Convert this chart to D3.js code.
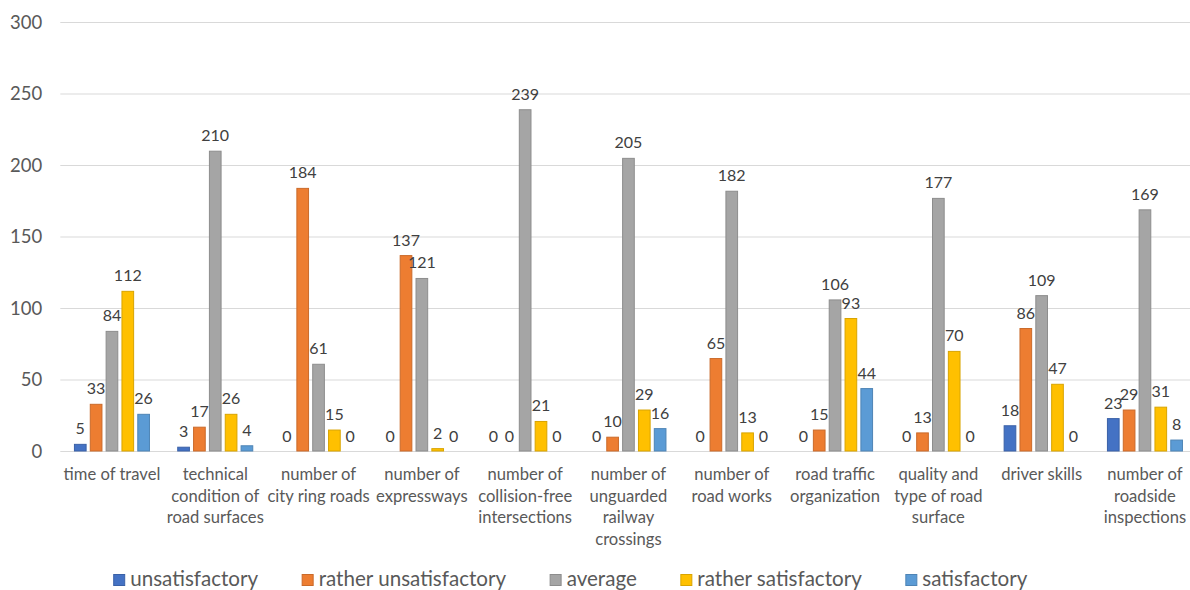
<!DOCTYPE html>
<html>
<head>
<meta charset="utf-8">
<script src="https://cdn.jsdelivr.net/npm/d3@7"></script>
<style>
  html, body { margin: 0; padding: 0; background: #fff; }
  svg { display: block; font-family: Lato, "Noto Sans", sans-serif; }
</style>
</head>
<body>
<svg id="chart" width="1190" height="590"></svg>
<script>
// Survey answers per road-infrastructure factor
const categories = [
  "time of travel",
  "technical condition of road surfaces",
  "number of city ring roads",
  "number of expressways",
  "number of collision-free intersections",
  "number of unguarded railway crossings",
  "number of road works",
  "road traffic organization",
  "quality and type of road surface",
  "driver skills",
  "number of roadside inspections"
];
// Wrapped lines for the category axis labels
const categoryLines = [
  ["time of travel"],
  ["technical", "condition of", "road surfaces"],
  ["number of", "city ring roads"],
  ["number of", "expressways"],
  ["number of", "collision-free", "intersections"],
  ["number of", "unguarded", "railway", "crossings"],
  ["number of", "road works"],
  ["road traffic", "organization"],
  ["quality and", "type of road", "surface"],
  ["driver skills"],
  ["number of", "roadside", "inspections"]
];
const seriesNames = ["unsatisfactory", "rather unsatisfactory", "average", "rather satisfactory", "satisfactory"];
const unsatisfactory       = [5, 3, 0, 0, 0, 0, 0, 0, 0, 18, 23];
const ratherUnsatisfactory = [33, 17, 184, 137, 0, 10, 65, 15, 13, 86, 29];
const average              = [84, 210, 61, 121, 239, 205, 182, 106, 177, 109, 169];
const ratherSatisfactory   = [112, 26, 15, 2, 21, 29, 13, 93, 70, 47, 31];
const satisfactory         = [26, 4, 0, 0, 0, 16, 0, 44, 0, 0, 8];
const yTicks = [0, 50, 100, 150, 200, 250, 300];

const seriesValues = [unsatisfactory, ratherUnsatisfactory, average, ratherSatisfactory, satisfactory];
const colors = ["#4472C4", "#ED7D31", "#A5A5A5", "#FFC000", "#5B9BD5"];

const svg = d3.select("#chart");
const plotLeft = 60.3, plotRight = 1196.6, plotTop = 22, plotBottom = 451;

const y = d3.scaleLinear().domain([0, 300]).range([plotBottom, plotTop]);
const x0 = d3.scaleBand().domain(categories).range([plotLeft, plotRight]).padding(0);
const groupWidth = x0.bandwidth() * 0.736;
const groupOffset = (x0.bandwidth() - groupWidth) / 2;
const x1 = d3.scaleBand().domain(seriesNames).range([0, groupWidth]).paddingInner(0.2).paddingOuter(0);

// Gridlines and y tick labels
const yAxis = d3.axisLeft(y).tickValues(yTicks).tickSize(-(plotRight - plotLeft)).tickPadding(18);
const gy = svg.append("g").attr("transform", `translate(${plotLeft},0)`).call(yAxis);
gy.select(".domain").remove();
gy.selectAll(".tick line").attr("stroke", "#D9D9D9").attr("stroke-width", 1);
gy.selectAll(".tick text")
  .attr("fill", "#595959").style("font-size", "18.5px").style("font-family", "Lato, sans-serif")
  .attr("dy", "0.34em");

// Bars
const rows = categories.map((c, i) => ({ cat: c, i, vals: seriesNames.map((s, k) => ({ s, k, v: seriesValues[k][i] })) }));
const groups = svg.append("g").selectAll("g").data(rows).join("g")
  .attr("transform", d => `translate(${x0(d.cat) + groupOffset},0)`);

groups.selectAll("rect").data(d => d.vals.filter(e => e.v > 0)).join("rect")
  .attr("x", e => x1(e.s) + 0.5)
  .attr("y", e => y(e.v) + 0.5)
  .attr("width", x1.bandwidth() - 1)
  .attr("height", e => Math.max(0, y(0) - y(e.v) - 0.5))
  .attr("fill", e => colors[e.k])
  .attr("stroke", e => d3.color(colors[e.k]).darker(0.45))
  .attr("stroke-width", 1);

// Value labels
groups.selectAll("text").data(d => d.vals).join("text")
  .attr("x", e => x1(e.s) + x1.bandwidth() / 2)
  .attr("y", e => y(e.v) - 9.5)
  .attr("text-anchor", "middle")
  .attr("fill", "#404040")
  .style("font-size", "16px")
  .text(e => e.v);

// Category labels
const cat = svg.append("g").selectAll("text").data(categoryLines).join("text")
  .attr("text-anchor", "middle")
  .attr("fill", "#595959")
  .style("font-size", "16.6px")
  .attr("transform", (d, i) => `translate(${x0(categories[i]) + x0.bandwidth() / 2},480)`);
cat.selectAll("tspan").data(d => d).join("tspan")
  .attr("x", 0).attr("dy", (d, j) => j === 0 ? 0 : 21.6).text(d => d);

// Legend
const legend = svg.append("g");
const items = legend.selectAll("g").data(seriesNames).join("g");
items.append("rect").attr("width", 11).attr("height", 11).attr("y", 574.5)
  .attr("fill", (d, i) => colors[i]).attr("stroke", (d, i) => d3.color(colors[i]).darker(0.45)).attr("stroke-width", 1);
items.append("text").attr("x", 16.5).attr("y", 586).attr("fill", "#595959")
  .style("font-size", "20.6px").text(d => d);
let cursor = 0;
const widths = [];
items.each(function () {
  const w = 16.5 + d3.select(this).select("text").node().getComputedTextLength();
  widths.push(w);
});
const total = d3.sum(widths) + 44 * (widths.length - 1);
cursor = 570.5 - total / 2;
items.attr("transform", (d, i) => {
  const t = `translate(${cursor},0)`;
  cursor += widths[i] + 44;
  return t;
});
</script>
</body>
</html>
